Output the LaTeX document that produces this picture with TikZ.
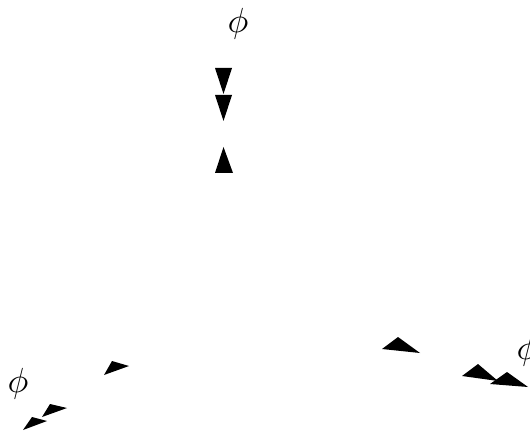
\documentclass[tikz,border=0pt]{standalone}
\usepackage{amsmath, amssymb}
\usepackage{graphicx}
\usepackage{tikz}
\usetikzlibrary{positioning}
\newcommand{\bigphi}{\scalebox{3.5}{$\phi$}}

\begin{document}
\begin{tikzpicture}[x=1bp, y=-1bp,
      head/.style={fill=black},
      lbl/.style={inner sep=0pt}]
    \useasboundingbox (0,0) rectangle (530,433);
    % axis labels
    \node[lbl] (Ltop) at (238,24) {\bigphi};
    \node[lbl] (Lleft) at (18,384) {\bigphi};
    \node[lbl] (Lright) at (527,351) {\bigphi};
    % vertical axis heads
    \fill[head] (215,68) -- (232,68) -- (223.5,94) -- cycle;
    \fill[head] (215,95) -- (232,95) -- (223.5,121) -- cycle;
    \fill[head] (223.5,147) -- (215,173) -- (233,173) -- cycle;
    % left axis heads
    \fill[head] (104,375) -- (112,361) -- (129,366) -- cycle;
    \fill[head] (42,417) -- (50,404) -- (67,408) -- cycle;
    \fill[head] (23,430) -- (32,417) -- (47,421) -- cycle;
    % right axis heads
    \fill[head] (382,349) -- (398,337) -- (420,353) -- cycle;
    \fill[head] (462,376) -- (478,364) -- (498,381) -- cycle;
    \fill[head] (490,384) -- (507,372) -- (528,387) -- cycle;
\end{tikzpicture}
\end{document}
